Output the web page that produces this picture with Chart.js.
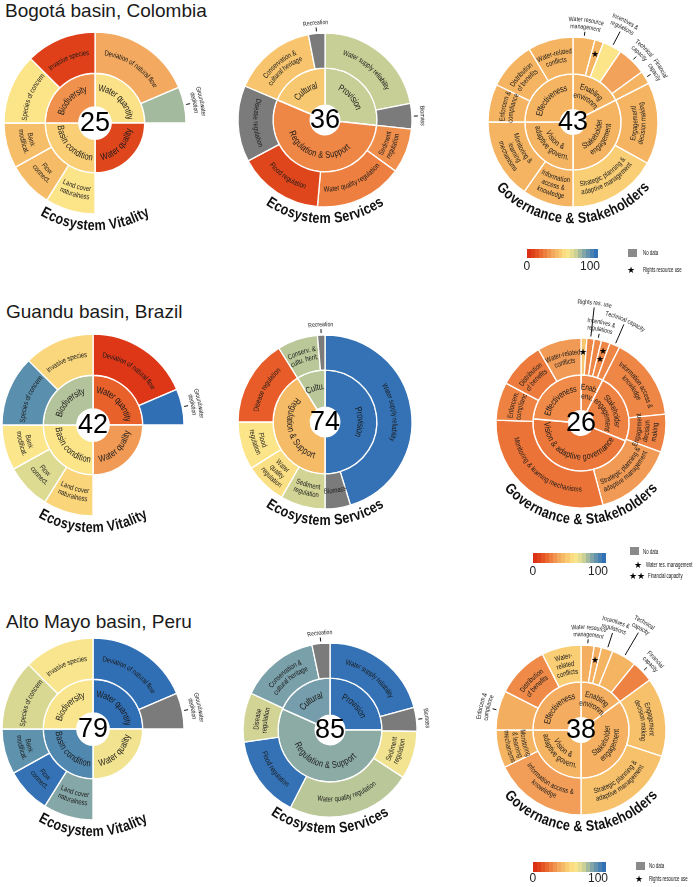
<!DOCTYPE html>
<html><head><meta charset="utf-8">
<script src="https://cdn.jsdelivr.net/npm/chart.js@4.4.1/dist/chart.umd.min.js"></script>
<style>
html,body{margin:0;padding:0;background:#fff;}
body{width:696px;height:887px;position:relative;overflow:hidden;font-family:"Liberation Sans",Arial,sans-serif;}
.title{position:absolute;font-size:19px;color:#1a1a1a;line-height:1;white-space:nowrap;}
canvas.panel{position:absolute;}
.lg{position:absolute;line-height:1;white-space:nowrap;color:#111;}
.sm{font-size:6.8px;transform:scaleX(0.64);transform-origin:0 50%;}
</style></head><body>
<script>
// ---------------- DATA ----------------
const basinTitles = ['Bogotá basin, Colombia', 'Guandu basin, Brazil', 'Alto Mayo basin, Peru'];
const panelTitles = ['Ecosystem Vitality', 'Ecosystem Services', 'Governance & Stakeholders'];

// Ecosystem Vitality structure (shared)
const evInnerLabels = ['Water quantity', 'Water quality', 'Basin condition', 'Biodiversity'];
const evInnerWeights = [90, 90, 90, 90];
const evOuterLabels = ['Deviation of natural flow', 'Groundwater\ndepletion', '', 'Land cover\nnaturalness', 'Flow\nconnect.', 'Bank\nmodificat.', 'Species of concern', 'Invasive species'];
const evOuterWeights = [67, 23, 90, 32, 29, 29, 45, 45];
const evOutside = ['Groundwater\ndepletion'];

// Bogotá
const bogEVCenter = 25;
const bogEVInner = [55, 10, 48, 30];
const bogEVOuter = [36, 75, null, 56, 42, 43, 56, 8];

const bogESCenter = 36;
const bogESInnerLabels = ['Provision', 'Regulation & Support', 'Cultural'];
const bogESInnerWeights = [96, 197, 67];
const bogESInner = [70, 27, 46];
const bogESOuterLabels = ['Water supply reliability', 'Biomass', 'Sediment\nregulation', 'Water quality regulation', 'Flood regulation', 'Disease regulation', 'Conservation &\ncultural heritage', 'Recreation'];
const bogESOuterWeights = [79, 17, 30, 59, 57, 51, 56, 11];
const bogESOuter = [70, null, 29, 25, 10, null, 45, null];
const bogESOutside = ['Biomass', 'Recreation'];

const bogGovCenter = 43;
const bogGovInnerLabels = ['Enabling\nenvironm.', 'Stakeholder\nengagement', 'Vision &\nadaptive govern.', 'Effectiveness'];
const bogGovInnerWeights = [63, 117, 90, 90];
const bogGovInner = [40, 40, 40, 40];
const bogGovOuterLabels = ['Water resource\nmanagement', 'Rights resource use', 'Incentives &\nregulations', 'Technical\ncapacity', 'Financial\ncapacity', 'Engagement/\ndecision making', 'Strategic planning &\nadaptive management', 'Information\naccess &\nknowledge', 'Monitoring &\nlearning\nmechanisms', 'Enforcem &\ncompliance', 'Distribution\nof benefits', 'Water-related\nconflicts'];
const bogGovOuterWeights = [15, 6, 13, 20, 9, 56, 61, 35, 55, 26, 33, 31];
const bogGovOuter = [40, 40, 56, 34, 40, 40, 48, 40, 40, 40, 40, 40];
const bogGovOutside = ['Water resource\nmanagement', 'Incentives &\nregulations', 'Technical\ncapacity', 'Financial\ncapacity'];
const bogGovStarNames = ['Rights resource use'];
const bogGovStarCounts = [1];

// Guandu
const guaEVCenter = 42;
const guaEVInner = [17, 32, 56, 73];
const guaEVOuter = [5, 98, null, 50, 65, 57, 88, 51];

const guaESCenter = 74;
const guaESInnerLabels = ['Provision', 'Regulation & Support', 'Cultu.'];
const guaESInnerWeights = [180, 148, 32];
const guaESInner = [97, 42, 72];
const guaESOuterLabels = ['Water supply reliability', 'Biomass', 'Sediment\nregulation', 'Water\nquality\nregulation', 'Flood\nregulation', 'Disease regulation', 'Conserv. &\ncultu. herit.', 'Recreation'];
const guaESOuterWeights = [163, 17, 30, 28, 32, 58, 27, 5];
const guaESOuter = [97, null, 68, 54, 56, 16, 72, null];
const guaESOutside = ['Recreation'];

const guaGovCenter = 26;
const guaGovInnerLabels = ['Enab.\nenv.', 'Stakeholder\nengagement', 'Vision & adaptive governance', 'Effectiveness'];
const guaGovInnerWeights = [27, 85, 163, 85];
const guaGovInner = [28, 26, 23, 28];
const guaGovOuterLabels = ['Water res. management', 'Rights res. use', 'Incentives &\nregulations', 'Financial capacity', 'Technical capacity', 'Information access &\nknowledge', 'Engagement\ndecision\nmaking', 'Strategic planning &\nadaptive management', 'Monitoring & learning mechanisms', 'Enforcem.\ncomplianc', 'Distribution\nof benefits', 'Water-related\nconflicts'];
const guaGovOuterWeights = [4, 5, 5, 6, 7, 57, 26, 55, 107, 26, 32, 30];
const guaGovOuter = [45, 27, 27, 27, 27, 27, 26, 32, 22, 26, 24, 32];
const guaGovOutside = ['Rights res. use', 'Incentives &\nregulations', 'Technical capacity'];
const guaGovStarNames = ['Water res. management', 'Financial capacity'];
const guaGovStarCounts = [1, 2];

// Alto Mayo
const altEVCenter = 79;
const altEVInner = [98, 60, 90, 58];
const altEVOuter = [98, null, null, 80, 97, 87, 66, 58];

const altESCenter = 85;
const altESInnerLabels = ['Provision', 'Regulation & Support', 'Cultural'];
const altESInnerWeights = [90, 204, 66];
const altESInner = [97, 79, 83];
const altESOuterLabels = ['Water supply reliability', 'Biomass', 'Sediment\nregulation', 'Water quality regulation', 'Flood regulation', 'Disease\nregulation', 'Conservation &\ncultural heritage', 'Recreation'];
const altESOuterWeights = [75, 16, 32, 84, 55, 33, 53, 12];
const altESOuter = [97, null, 60, 72, 97, 68, 82, null];
const altESOutside = ['Biomass', 'Recreation'];

const altGovCenter = 38;
const altGovInnerLabels = ['Enabling\nenvironm.', 'Stakeholder\nengagement', 'Vision &\nadaptive govern.', 'Effectiveness'];
const altGovInnerWeights = [54, 126, 90, 90];
const altGovInner = [38, 39, 40, 37];
const altGovOuterLabels = ['Water resource\nmanagement', 'Rights resource use', 'Incentives &\nregulations', 'Technical\ncapacity', 'Financial\ncapacity', 'Engagement\ndecision making', 'Strategic planning &\nadaptive management', 'Information access &\nknowledge', 'Monitoring\n& learning\nmechanisms', 'Enforcem &\ncompliance', 'Distribution\nof benefits', 'Water-\nrelated\nconflicts'];
const altGovOuterWeights = [9, 5, 8, 17, 15, 54, 72, 64, 26, 27, 36, 27];
const altGovOuter = [38, 38, 40, 40, 26, 44, 44, 33, 40, 38, 28, 48];
const altGovOutside = ['Water resource\nmanagement', 'Incentives &\nregulations', 'Technical\ncapacity', 'Financial\ncapacity', 'Enforcem &\ncompliance'];
const altGovStarNames = ['Rights resource use'];
const altGovStarCounts = [1];

// legend
const legendTicks = ['0', '100'];

// ---------------- STYLE / LAYOUT ----------------
const STOPS = [
  [0, [218, 40, 20]], [10, [224, 70, 28]], [17, [232, 96, 42]], [28, [239, 138, 72]],
  [35, [243, 166, 94]], [40, [245, 180, 98]], [50, [250, 213, 122]], [57, [252, 230, 140]],
  [63, [230, 223, 145]], [70, [200, 207, 150]], [76, [157, 182, 160]], [82, [122, 160, 170]],
  [88, [90, 143, 174]], [94, [62, 122, 180]], [100, [42, 106, 182]]
];
const NODATA = '#7b7b7b';
function colorFor(s) {
  if (s === null || s === undefined) return NODATA;
  for (let i = 1; i < STOPS.length; i++) {
    if (s <= STOPS[i][0]) {
      const [a, ca] = STOPS[i - 1], [b, cb] = STOPS[i];
      const t = (s - a) / (b - a);
      const c = ca.map((v, k) => Math.round(v + (cb[k] - v) * t));
      return `rgb(${c[0]},${c[1]},${c[2]})`;
    }
  }
  const c = STOPS[STOPS.length - 1][1];
  return `rgb(${c[0]},${c[1]},${c[2]})`;
}
const GEOM = {
  EV: { R: 91, Ri: 53, h: 22, inFont: 9.5, inFont2: 9, inShift: 2 },
  ES: { R: 87, Ri: 55, h: 21, inFont: 9.5, inFont2: 9, inShift: 2 },
  GOV: { R: 85, Ri: 51, h: 18, inFont: 9, inFont2: 8.3, inShift: 4 }
};
const OUT_LEVEL = {
  bogGov: { 'Incentives &\nregulations': 1 },
  guaGov: { 'Rights res. use': 2.3, 'Technical capacity': 1.5 },
  altGov: { 'Incentives &\nregulations': 1, 'Technical\ncapacity': 2 }
};
const FONT = '"Liberation Sans", Arial, sans-serif';
const TXT = '#1a1a1a';

function curved(ctx, text, cx, cy, r, mid, px, weight, squeeze, color) {
  const lines = text.split('\n');
  ctx.font = `${weight} ${px}px ${FONT}`;
  ctx.fillStyle = color;
  ctx.textAlign = 'center';
  ctx.textBaseline = 'middle';
  const deg = ((mid * 180 / Math.PI + 90) % 360 + 360) % 360;
  const bottom = deg > 90.5 && deg < 269.5;
  const lh = px * 1.1;
  lines.forEach((line, i) => {
    const off = ((lines.length - 1) / 2 - i) * lh;
    const rr = bottom ? r - off : r + off;
    const chars = [...line];
    const widths = chars.map(c => ctx.measureText(c).width * squeeze);
    const W = widths.reduce((a, b) => a + b, 0);
    let acc = 0;
    chars.forEach((c, k) => {
      const d = (acc + widths[k] / 2) / rr;
      const th = bottom ? mid + W / (2 * rr) - d : mid - W / (2 * rr) + d;
      ctx.save();
      ctx.translate(cx, cy);
      if (bottom) { ctx.rotate(th - Math.PI / 2); ctx.translate(0, rr); }
      else { ctx.rotate(th + Math.PI / 2); ctx.translate(0, -rr); }
      ctx.scale(squeeze, 1);
      ctx.fillText(c, 0, 0);
      ctx.restore();
      acc += widths[k];
    });
  });
}

function makePlugin(spec) {
  return {
    id: 'sun_' + spec.id,
    afterDatasetsDraw(chart) {
      const ctx = chart.ctx;
      ctx.save();
      const g = GEOM[spec.type];
      const levels = OUT_LEVEL[spec.id] || {};
      [0, 1].forEach(di => {
        const meta = chart.getDatasetMeta(di);
        const names = chart.data.datasets[di].names;
        meta.data.forEach((arc, i) => {
          const p = arc.getProps(['x', 'y', 'startAngle', 'endAngle', 'innerRadius', 'outerRadius'], true);
          const name = names[i];
          if (!name) return;
          const mid = (p.startAngle + p.endAngle) / 2;
          const rMid = (p.innerRadius + p.outerRadius) / 2;
          if (di === 1) {
            const one = name.indexOf('\n') < 0;
            curved(ctx, name, p.x, p.y, rMid + (one ? g.inShift : 1), mid, one ? g.inFont : g.inFont2, 'normal', 0.78, TXT);
            return;
          }
          const si = (spec.starNames || []).indexOf(name);
          if (si >= 0) {
            const n = spec.starCounts[si];
            for (let k = 0; k < n; k++) {
              const rr = rMid + (k - (n - 1) / 2) * 9 + 4;
              ctx.font = `9px ${FONT}`; ctx.fillStyle = '#000';
              ctx.textAlign = 'center'; ctx.textBaseline = 'middle';
              ctx.fillText('★', p.x + rr * Math.cos(mid), p.y + rr * Math.sin(mid));
            }
            return;
          }
          if ((spec.outside || []).indexOf(name) >= 0) {
            const lvl = levels[name] || 0;
            const nl = name.split('\n').length;
            const bh = nl * 6.5 * 1.1;
            const rl = p.outerRadius + 7 + lvl * 11 + bh / 2;
            ctx.strokeStyle = '#111'; ctx.lineWidth = 1;
            ctx.beginPath();
            const r0 = p.outerRadius + 2, r1 = p.outerRadius + 6 + lvl * 11;
            ctx.moveTo(p.x + r0 * Math.cos(mid), p.y + r0 * Math.sin(mid));
            ctx.lineTo(p.x + r1 * Math.cos(mid), p.y + r1 * Math.sin(mid));
            ctx.stroke();
            curved(ctx, name, p.x, p.y, rl, mid, 6.5, 'normal', 0.8, TXT);
            return;
          }
          curved(ctx, name, p.x, p.y, rMid, mid, 7.4, 'normal', 0.8, TXT);
        });
      });
      const c = chart.getDatasetMeta(1).data[0].getProps(['x', 'y'], true);
      ctx.font = `27px ${FONT}`; ctx.fillStyle = '#000';
      ctx.textAlign = 'center'; ctx.textBaseline = 'middle';
      ctx.fillText(String(spec.center), c.x, c.y + 1);
      curved(ctx, spec.title, c.x, c.y, g.R + 12, Math.PI / 2, 15, 'bold', 0.84, '#111');
      ctx.restore();
    }
  };
}

const SIZE = 250;
function addPanel(spec) {
  const g = GEOM[spec.type];
  const cv = document.createElement('canvas');
  cv.className = 'panel';
  cv.width = SIZE; cv.height = SIZE;
  cv.style.left = (spec.cx - SIZE / 2) + 'px';
  cv.style.top = (spec.cy - SIZE / 2) + 'px';
  document.body.appendChild(cv);
  new Chart(cv, {
    type: 'doughnut',
    data: {
      labels: spec.outL,
      datasets: [
        {
          data: spec.outW, names: spec.outL,
          backgroundColor: spec.outS.map((s, i) => spec.outL[i] === '' ? 'rgba(0,0,0,0)' : colorFor(s)),
          borderColor: '#fff', borderWidth: spec.outL.map(l => l === '' ? 0 : 1.3),
          weight: g.R - g.Ri
        },
        {
          data: spec.inW, names: spec.inL,
          backgroundColor: spec.inS.map(colorFor),
          borderColor: '#fff', borderWidth: 1.5,
          weight: g.Ri - g.h
        }
      ]
    },
    options: {
      responsive: false, animation: false, events: [],
      radius: g.R, cutout: g.h,
      layout: { padding: 0 },
      plugins: { legend: { display: false }, tooltip: { enabled: false } }
    },
    plugins: [makePlugin(spec)]
  });
}

const panels = [
  { id: 'bogEV', cx: 95, cy: 123, type: 'EV', title: panelTitles[0], center: bogEVCenter, inL: evInnerLabels, inW: evInnerWeights, inS: bogEVInner, outL: evOuterLabels, outW: evOuterWeights, outS: bogEVOuter, outside: evOutside },
  { id: 'bogES', cx: 325, cy: 120, type: 'ES', title: panelTitles[1], center: bogESCenter, inL: bogESInnerLabels, inW: bogESInnerWeights, inS: bogESInner, outL: bogESOuterLabels, outW: bogESOuterWeights, outS: bogESOuter, outside: bogESOutside },
  { id: 'bogGov', cx: 573, cy: 122, type: 'GOV', title: panelTitles[2], center: bogGovCenter, inL: bogGovInnerLabels, inW: bogGovInnerWeights, inS: bogGovInner, outL: bogGovOuterLabels, outW: bogGovOuterWeights, outS: bogGovOuter, outside: bogGovOutside, starNames: bogGovStarNames, starCounts: bogGovStarCounts },
  { id: 'guaEV', cx: 93, cy: 425, type: 'EV', title: panelTitles[0], center: guaEVCenter, inL: evInnerLabels, inW: evInnerWeights, inS: guaEVInner, outL: evOuterLabels, outW: evOuterWeights, outS: guaEVOuter, outside: evOutside },
  { id: 'guaES', cx: 325, cy: 422, type: 'ES', title: panelTitles[1], center: guaESCenter, inL: guaESInnerLabels, inW: guaESInnerWeights, inS: guaESInner, outL: guaESOuterLabels, outW: guaESOuterWeights, outS: guaESOuter, outside: guaESOutside },
  { id: 'guaGov', cx: 581, cy: 423, type: 'GOV', title: panelTitles[2], center: guaGovCenter, inL: guaGovInnerLabels, inW: guaGovInnerWeights, inS: guaGovInner, outL: guaGovOuterLabels, outW: guaGovOuterWeights, outS: guaGovOuter, outside: guaGovOutside, starNames: guaGovStarNames, starCounts: guaGovStarCounts },
  { id: 'altEV', cx: 93, cy: 729, type: 'EV', title: panelTitles[0], center: altEVCenter, inL: evInnerLabels, inW: evInnerWeights, inS: altEVInner, outL: evOuterLabels, outW: evOuterWeights, outS: altEVOuter, outside: evOutside },
  { id: 'altES', cx: 330, cy: 730, type: 'ES', title: panelTitles[1], center: altESCenter, inL: altESInnerLabels, inW: altESInnerWeights, inS: altESInner, outL: altESOuterLabels, outW: altESOuterWeights, outS: altESOuter, outside: altESOutside },
  { id: 'altGov', cx: 581, cy: 730, type: 'GOV', title: panelTitles[2], center: altGovCenter, inL: altGovInnerLabels, inW: altGovInnerWeights, inS: altGovInner, outL: altGovOuterLabels, outW: altGovOuterWeights, outS: altGovOuter, outside: altGovOutside, starNames: altGovStarNames, starCounts: altGovStarCounts }
];

// titles
[[5, 1], [6, 302], [6, 612]].forEach(([x, y], i) => {
  const d = document.createElement('div');
  d.className = 'title'; d.textContent = basinTitles[i];
  d.style.left = x + 'px'; d.style.top = y + 'px';
  document.body.appendChild(d);
});

panels.forEach(addPanel);

// legends
function el(html, x, y, cls, extra) {
  const d = document.createElement('div');
  d.className = 'lg ' + (cls || '');
  d.innerHTML = html;
  d.style.left = x + 'px'; d.style.top = y + 'px';
  if (extra) Object.assign(d.style, extra);
  document.body.appendChild(d);
  return d;
}
function bandGradient() {
  const N = 18, parts = [];
  for (let i = 0; i < N; i++) {
    const c = colorFor((i + 0.5) / N * 100);
    parts.push(`${c} ${(i / N * 100).toFixed(2)}%`, `${c} ${((i + 1) / N * 100).toFixed(2)}%`);
  }
  return `linear-gradient(to right, ${parts.join(',')})`;
}
function colorbar(x, y, w, h, tickY) {
  el('', x, y, '', { width: w + 'px', height: h + 'px', background: bandGradient() });
  el(legendTicks[0], x - 3.5, tickY - 6, '', { fontSize: '12px', color: '#222' });
  el(legendTicks[1], x + w - 18, tickY - 6, '', { fontSize: '12px', color: '#222' });
}
function noData(x, y, tx, ty) {
  el('', x, y, '', { width: '9px', height: '8px', background: '#8a8a8a' });
  el('No data', tx, ty - 3.5, 'sm');
}
function star(txt, x, y, label, tx) {
  el(txt, x, y - 4.5, '', { fontSize: '9px', color: '#000' });
  el(label, tx, y - 3.5, 'sm');
}
colorbar(527, 249, 71, 9, 266);
noData(628, 249, 643, 253);
star('★', 627, 270, 'Rights resource use', 643);

colorbar(533, 553, 73, 10, 571);
noData(630, 547, 643, 552);
star('★', 634, 565, 'Water res. management', 646);
star('★★', 629, 576, 'Financial capacity', 648);

colorbar(533, 862, 73, 10, 878);
noData(636, 862, 649, 866);
star('★', 635, 879, 'Rights resource use', 649);
</script>
</body></html>
